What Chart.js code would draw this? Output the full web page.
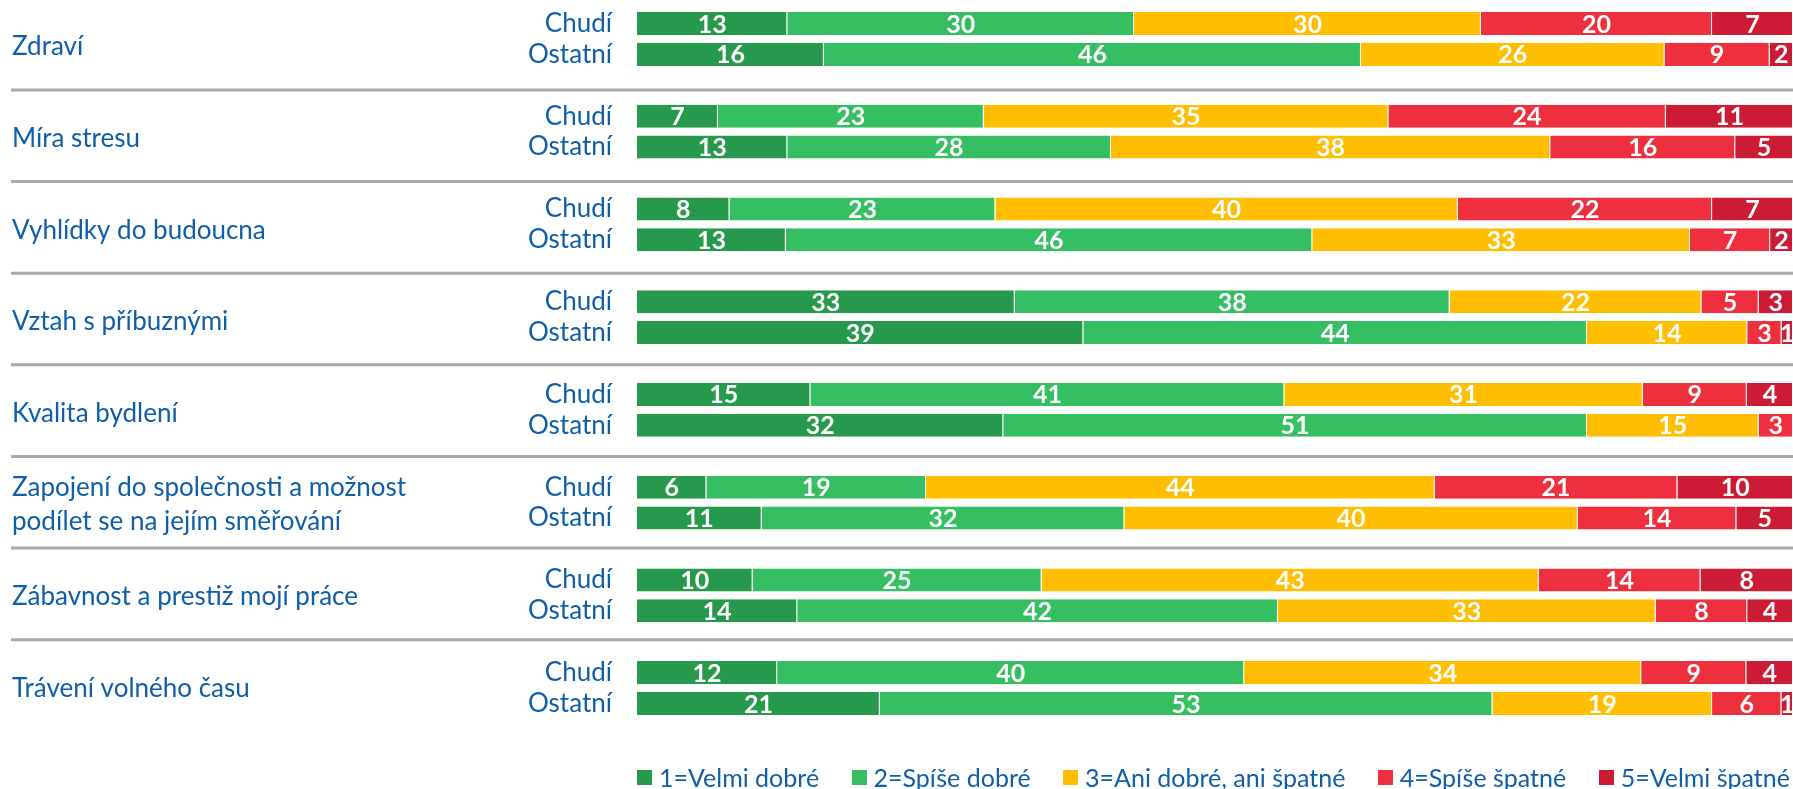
<!DOCTYPE html>
<html>
<head>
<meta charset="utf-8">
<script src="https://cdn.jsdelivr.net/npm/chart.js@4.4.1/dist/chart.umd.min.js"></script>
<style>
  html, body { margin: 0; padding: 0; background: #ffffff; }
  #wrap { position: relative; width: 1793px; height: 789px; overflow: hidden; }
  #c { display: block; }
  #legend { position: absolute; left: 637px; right: 3px; top: 762px; height: 30px;
            display: flex; justify-content: space-between; align-items: center;
            font-family: Lato, sans-serif; font-size: 25px; color: #0f5fa6; white-space: nowrap; }
  #legend .item { display: flex; align-items: center; }
  #legend .box { width: 15px; height: 15px; margin-right: 7px; }
</style>
</head>
<body>
<div id="wrap">
  <canvas id="c" width="1793" height="789" style="width:1793px;height:789px"></canvas>
  <div id="legend"></div>
</div>
<script>
// ---- data ----
const categories = [
  'Zdraví',
  'Míra stresu',
  'Vyhlídky do budoucna',
  'Vztah s příbuznými',
  'Kvalita bydlení',
  ['Zapojení do společnosti a možnost', 'podílet se na jejím směřování'],
  'Zábavnost a prestiž mojí práce',
  'Trávení volného času'
];
const groups = ['Chudí', 'Ostatní'];
const seriesNames = ['1=Velmi dobré', '2=Spíše dobré', '3=Ani dobré, ani špatné', '4=Spíše špatné', '5=Velmi špatné'];
const seriesColors = ['#26994c', '#36bf62', '#ffbf00', '#ee2f3d', '#cc1c35'];

// values in order: [cat1 Chudí, cat1 Ostatní, cat2 Chudí, cat2 Ostatní, ...]
const velmiDobre  = [13, 16,  7, 13,  8, 13, 33, 39, 15, 32,  6, 11, 10, 14, 12, 21];
const spiseDobre  = [30, 46, 23, 28, 23, 46, 38, 44, 41, 51, 19, 32, 25, 42, 40, 53];
const aniAni      = [30, 26, 35, 38, 40, 33, 22, 14, 31, 15, 44, 40, 43, 33, 34, 19];
const spiseSpatne = [20,  9, 24, 16, 22,  7,  5,  3,  9,  3, 21, 14, 14,  8,  9,  6];
const velmiSpatne = [ 7,  2, 11,  5,  7,  2,  3,  1,  4,  0, 10,  5,  8,  4,  4,  1];
const seriesValues = [velmiDobre, spiseDobre, aniAni, spiseSpatne, velmiSpatne];

// ---- build slots (Chudí, Ostatní, gap) ----
const slotLabels = [];
const slotIndex = [];   // slot -> index into the value arrays, or null for gaps
categories.forEach((c, k) => {
  groups.forEach((g, j) => { slotLabels.push(g); slotIndex.push(k * groups.length + j); });
  if (k < categories.length - 1) { slotLabels.push(''); slotIndex.push(null); }
});
const rowSums = velmiDobre.map((_, i) => seriesValues.reduce((s, arr) => s + arr[i], 0));

const datasets = seriesValues.map((vals, si) => ({
  label: seriesNames[si],
  backgroundColor: seriesColors[si],
  borderColor: 'rgba(255,255,255,0.35)',
  borderWidth: { left: 0, right: 1, top: 0, bottom: 0 },
  borderSkipped: false,
  raw: slotIndex.map(i => i === null ? null : vals[i]),
  data: slotIndex.map(i => i === null ? null : vals[i] / rowSums[i] * 100),
  categoryPercentage: 1,
  barPercentage: 0.745
}));

const textBlue = '#0f5fa6';
// group band k (0..8) expressed in slot units of the category axis
const groupToSlot = v => -0.8106 + 2.9634 * v;

const groupPlugin = {
  id: 'groupLabels',
  beforeDatasetsDraw(chart) {
    const y = chart.scales.y;
    const ctx = chart.ctx;
    ctx.save();
    ctx.strokeStyle = '#a8a8a8';
    ctx.lineWidth = 3;
    for (let k = 1; k < categories.length; k++) {
      const py = y.getPixelForValue(groupToSlot(k));
      ctx.beginPath();
      ctx.moveTo(11, py);
      ctx.lineTo(chart.width, py);
      ctx.stroke();
    }
    ctx.fillStyle = textBlue;
    ctx.font = '26px Lato';
    ctx.textAlign = 'left';
    ctx.textBaseline = 'middle';
    categories.forEach((c, k) => {
      const lines = Array.isArray(c) ? c : [c];
      const yc = y.getPixelForValue(groupToSlot(k + 0.53));
      lines.forEach((ln, j) => ctx.fillText(ln, 12, yc + (j - (lines.length - 1) / 2) * 34));
    });
    ctx.restore();
  }
};

const valuePlugin = {
  id: 'valueLabels',
  afterDatasetsDraw(chart) {
    const ctx = chart.ctx;
    ctx.save();
    ctx.font = 'bold 25px Lato';
    ctx.fillStyle = '#ffffff';
    ctx.textAlign = 'center';
    ctx.textBaseline = 'middle';
    chart.data.datasets.forEach((ds, di) => {
      const meta = chart.getDatasetMeta(di);
      meta.data.forEach((bar, i) => {
        const v = ds.raw[i];
        if (v === null || v === 0) return;
        const p = bar.getProps(['x', 'y', 'base'], true);
        ctx.fillText(String(v), (p.x + p.base) / 2, p.y + 1);
      });
    });
    ctx.restore();
  }
};

function build() {
  const chart = new Chart(document.getElementById('c'), {
    type: 'bar',
    data: { labels: slotLabels, datasets },
    options: {
      indexAxis: 'y',
      responsive: false,
      animation: false,
      devicePixelRatio: 1,
      layout: { padding: { top: 8, bottom: 70, left: 0, right: 0 } },
      plugins: { legend: { display: false }, tooltip: { enabled: false } },
      scales: {
        x: { stacked: true, min: 0, max: 100, display: false },
        y: {
          stacked: true,
          position: 'left',
          grid: { display: false, drawTicks: false },
          border: { display: false },
          ticks: { autoSkip: false, padding: 25, color: textBlue, font: { family: 'Lato', size: 26 } },
          afterFit(scale) { scale.width = 637; scale.paddingTop = 0; scale.paddingBottom = 0; }
        }
      }
    },
    plugins: [groupPlugin, valuePlugin]
  });

  const legend = document.getElementById('legend');
  seriesNames.forEach((name, i) => {
    const item = document.createElement('div');
    item.className = 'item';
    const box = document.createElement('span');
    box.className = 'box';
    box.style.background = chart.data.datasets[i].backgroundColor;
    const txt = document.createElement('span');
    txt.textContent = name;
    item.appendChild(box); item.appendChild(txt);
    legend.appendChild(item);
  });
}

if (document.fonts && document.fonts.load) {
  Promise.all([document.fonts.load('26px Lato'), document.fonts.load('bold 25px Lato')]).then(build, build);
} else { build(); }
</script>
</body>
</html>
